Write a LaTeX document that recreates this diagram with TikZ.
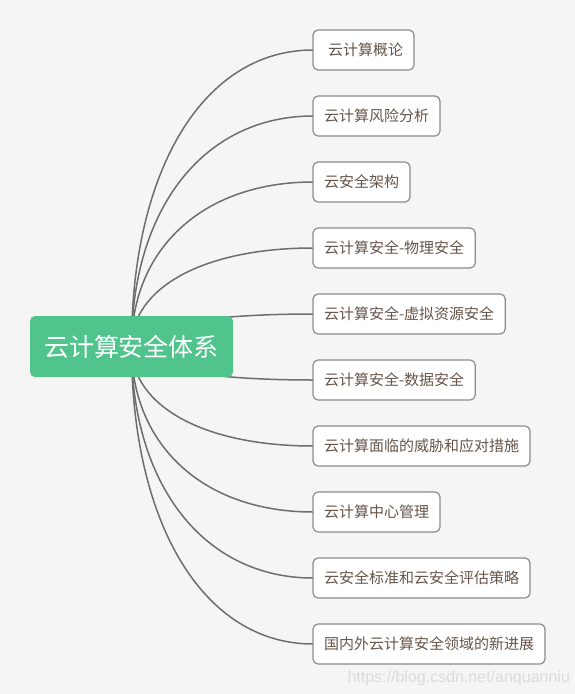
\documentclass[tikz,border=0pt]{standalone}
\usepackage{fontspec}
\setmainfont{Noto Sans CJK SC}
\newfontfamily\wmfont{Liberation Sans}
\usetikzlibrary{positioning,calc,backgrounds}

\definecolor{bgcolor}{HTML}{F5F5F5}
\definecolor{rootgreen}{HTML}{50C48C}
\definecolor{topicline}{HTML}{8C8C8C}
\definecolor{topictext}{HTML}{66564A}
\definecolor{branchline}{HTML}{6E6E6E}

\tikzstyle{rootbox} = [rectangle, rounded corners=5pt, fill=rootgreen, text=white, minimum width=203pt, minimum height=61pt, font=\fontsize{25}{29}\selectfont]
\tikzstyle{topic} = [rectangle, rounded corners=5pt, draw=topicline, line width=1.2pt, fill=white, text=topictext, minimum height=40pt, inner xsep=11pt, outer sep=0pt, font=\fontsize{15}{18}\selectfont]
\tikzstyle{branch} = [draw=branchline, line width=1.5pt]

\begin{document}
\begin{tikzpicture}[x=1pt, y=-1pt]
  \useasboundingbox (0,0) rectangle (575,694);

  \node (sys) [rootbox] at (131.5,346.5) {云计算安全体系};

  \node (t1) [topic, anchor=west] at (313,50) {\hspace{4pt}云计算概论\hspace{-4pt}};
  \node (t2) [topic, below=26pt of t1.south west, anchor=north west] {云计算风险分析};
  \node (t3) [topic, below=26pt of t2.south west, anchor=north west] {云安全架构};
  \node (t4) [topic, below=26pt of t3.south west, anchor=north west] {云计算安全-物理安全};
  \node (t5) [topic, below=26pt of t4.south west, anchor=north west] {云计算安全-虚拟资源安全};
  \node (t6) [topic, below=26pt of t5.south west, anchor=north west] {云计算安全-数据安全};
  \node (t7) [topic, below=26pt of t6.south west, anchor=north west] {云计算面临的威胁和应对措施};
  \node (t8) [topic, below=26pt of t7.south west, anchor=north west] {云计算中心管理};
  \node (t9) [topic, below=26pt of t8.south west, anchor=north west] {云安全标准和云安全评估策略};
  \node (t10) [topic, below=26pt of t9.south west, anchor=north west] {国内外云计算安全领域的新进展};

  \node (wm) [anchor=west, text=black!14, font=\wmfont\fontsize{16}{19}\selectfont] at (344,678) {https://blog.csdn.net/anquanniu};

  % branches run behind the central topic
  \begin{scope}[on background layer]
    \fill [bgcolor] (0,0) rectangle (575,694);
    \foreach \i in {1,...,10}
      \draw [branch] (sys.center) .. controls ($(sys.center)!0.6!(sys.center |- t\i.west)$) and ($(sys.center |- t\i.west)!0.4!(t\i.west)$) .. (t\i.west);
  \end{scope}
\end{tikzpicture}
\end{document}
